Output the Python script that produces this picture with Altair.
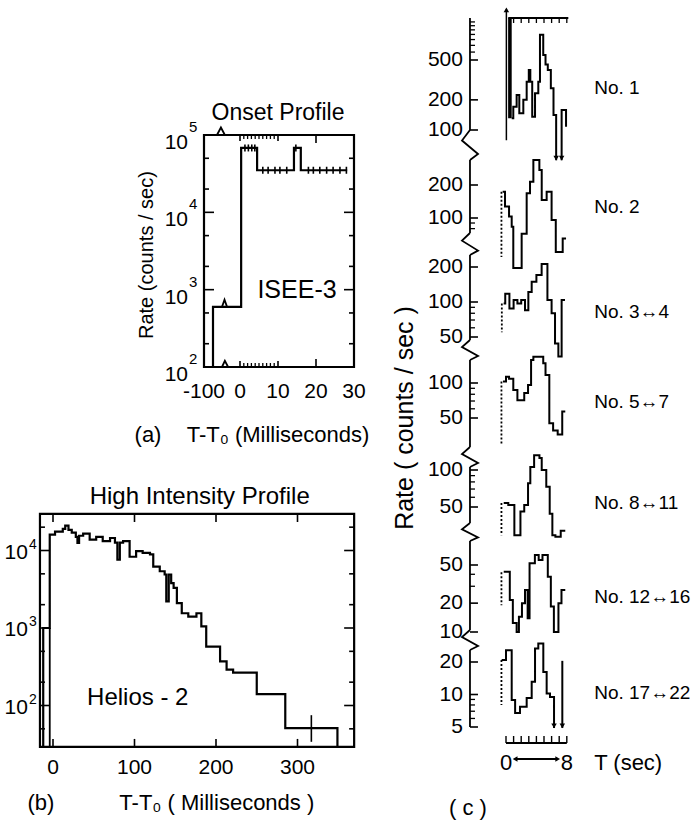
import math
import altair as alt
import pandas as pd

FW = "Liberation Sans, Arial, Helvetica, sans-serif"
FN = "Liberation Sans, Arial, Helvetica, sans-serif"

# ====================== DATA ======================
# (a) ISEE-3 onset profile  (T - T0 in ms, rate in counts/s), step curve
a_t = [-75, -75, 0.3, 4.5, 14.2, 16.0, 28.2]
a_rate = [100, 600, 68000, 35000, 68000, 35000, 35000]
a_err_t = [1.3, 2.2, 3.1, 3.9, 6.0, 7.4, 9.2, 10.5, 12.3, 14.7, 18.0, 19.3, 21.0, 22.8, 24.5, 26.3, 28.0]
a_err_rate = [68000, 68000, 68000, 68000, 35000, 35000, 35000, 35000, 35000, 68000,
              35000, 35000, 35000, 35000, 35000, 35000, 35000]
a_xtick_labels = ["-100", "0", "10", "20", "30"]
a_xtick_vals = [-100, 0, 10, 20, 30]
a_y_major = [100, 1000, 10000, 100000]
a_y_exp = ["2", "3", "4", "5"]
a_y_minor = [200, 500, 2000, 5000, 20000, 50000]
a_x_minor = [1, 2, 3, 4, 5, 6, 7, 8, 9]
a_x_mid = [0, 10]
a_x_major = [20]
# axis-break chevrons (T, rate)
a_brk_top_t, a_brk_top_v = [-64, -53, -42], [100000, 125000, 100000]
a_brk_bot_t, a_brk_bot_v = [-50, -42, -33], [100, 120, 100]
a_brk_cur_t, a_brk_cur_v = [-50, -43, -36], [600, 740, 600]

# (b) Helios-2 high intensity profile, step curve
b_t = [-12, -12, -4, 2.5, 12, 15, 19, 23, 28, 30, 32, 37, 45, 53, 61, 70, 76, 79, 82, 86,
       94, 102, 110, 119, 123, 131, 137, 139, 142, 145, 148, 152, 158, 166, 176, 182, 188,
       205, 213, 221, 250, 285, 349, 349]
b_rate = [29.2, 1000, 16000, 17500, 19000, 21000, 18500, 17000, 15000, 12500, 15500, 16500,
          13800, 15000, 13200, 14500, 12600, 7600, 12600, 13200, 8300, 9800, 9300, 8900, 6200,
          5400, 4900, 2200, 4900, 3800, 3300, 2100, 1550, 1400, 1550, 1050, 575, 370, 290, 265,
          140, 51, 51, 29.2]
b_err_t, b_err_lo, b_err_hi = [317], [34], [75]
b_pre_t, b_pre_lo, b_pre_hi = [-4], [29.2], [1000]
b_xtick_vals = [0, 100, 200, 300]
b_xtick_labels = ["0", "100", "200", "300"]
b_y_major = [100, 1000, 10000]
b_y_exp = ["2", "3", "4"]
b_y_minor = [50, 200, 500, 2000, 5000, 20000]

# (c) seven event groups: T (s) and rate (counts/s)
s1_t = [0.75, 0.96, 1.40, 1.75, 2.28, 2.72, 3.00, 3.20, 3.45, 3.82, 4.25, 4.47, 4.90, 5.20,
        5.50, 5.90, 6.25, 6.60, 6.60, 7.32, 7.32, 7.90, 7.90]
s1_rate = [131, 171, 224, 147, 200, 304, 398, 304, 136, 233, 304, 891, 562, 450, 398, 261,
           141, 141, 50, 50, 158, 158, 108]
s1_seg = [0, 0, 0, 0, 0, 0, 0, 0, 0, 0, 0, 0, 0, 0, 0, 0, 0, 0, 0, 1, 1, 1, 1]
s2_t = [-0.44, -0.13, 0.40, 0.75, 0.96, 2.06, 2.72, 3.16, 3.60, 4.39, 4.70, 5.35, 6.00, 6.55, 7.46, 7.90]
s2_rate = [174, 127, 103, 83, 35, 72, 168, 214, 338, 274, 146, 174, 96, 49, 65, 65]
s3_t = [-0.31, -0.10, 0.45, 1.00, 1.50, 2.00, 2.50, 2.94, 3.38, 4.00, 4.69, 5.45, 6.00, 6.45, 6.89, 7.32, 7.76]
s3_rate = [97, 118, 88, 104, 97, 104, 85, 122, 149, 171, 212, 104, 80, 44, 34, 104, 104]
s4_t = [-0.40, 0.00, 0.40, 0.96, 1.50, 2.40, 2.90, 3.30, 3.60, 4.90, 5.20, 5.70, 6.20, 6.80, 7.40, 7.80]
s4_rate = [103, 113, 109, 87, 71, 82, 96, 158, 168, 148, 117, 45, 39, 36, 57, 57]
s5_t = [-0.30, 0.30, 1.10, 1.90, 2.40, 2.90, 3.20, 3.70, 4.40, 4.70, 5.30, 5.75, 6.10, 6.50, 7.20, 7.80]
s5_rate = [54, 52, 29.5, 46, 52, 78, 106, 132, 125, 100, 73, 44, 29.5, 28.6, 32, 32]
s6_t = [-0.30, 0.50, 0.90, 1.40, 1.70, 2.10, 2.50, 2.85, 3.10, 3.80, 4.30, 4.80, 5.50, 5.90,
        6.30, 6.90, 7.30, 7.80]
s6_rate = [42.5, 21.6, 12.4, 10, 14.4, 19.9, 27.4, 13.9, 52, 63.5, 56.4, 63.5, 37.8, 18.4,
           10, 19.9, 27.4, 27.4]
s7_t = [-0.57, 0.00, 0.75, 1.20, 1.84, 2.72, 3.38, 3.82, 4.25, 4.91, 5.35, 5.79, 6.32, 6.32, 7.41, 7.41]
s7_rate = [20.9, 25.7, 8.9, 6.75, 7.7, 9.3, 13.1, 26.7, 29.7, 16.2, 10.2, 9.5, 9.5, 4.9, 20.5, 4.9]
s7_seg = [0, 0, 0, 0, 0, 0, 0, 0, 0, 0, 0, 0, 0, 0, 1, 1]

# pre-burst dashed segments (t, top, bottom)
dash_t = [None, -0.6, -0.55, -0.6, -0.6, -0.6, -0.6]
dash_top = [None, 174, 97, 103, 54, 42, 20.9]
dash_bot = [None, 44, 55, 30, 29.5, 19, 8.0]
# down arrows (t, rate)
s1_arrow_t, s1_arrow_v = [6.60, 7.32], [50, 50]
s7_arrow_t, s7_arrow_v = [6.32, 7.41], [4.9, 4.9]
s1_up_t, s1_up_v = [0.05], [1660]
s1_line_t, s1_line_lo, s1_line_hi = [0.05], [79], [1600]
s1_bar_t1, s1_bar_t2, s1_bar_lo, s1_bar_hi = [0.28], [0.75], [131], [1318]

group_labels = ["No. 1", "No. 2", "No. 3\u21944", "No. 5\u21947", "No. 8\u219411",
                "No. 12\u219416", "No. 17\u219422"]
group_label_rate = [263, 126, 82, 68.7, 53.9, 23.2, 10.3]
strip_major = [[100, 200, 500], [100, 200], [50, 100, 200], [50, 100], [50, 100],
               [10, 20, 50], [5, 10, 20]]
strip_minor = [[600, 700, 800, 900, 1000, 1100, 1200], [80, 90], [60, 70, 80, 90],
               [60, 70, 80, 90], [60, 70, 80, 90], [30, 40], [6, 7, 8, 9]]
strip_t = [s1_t, s2_t, s3_t, s4_t, s5_t, s6_t, s7_t]
strip_rate = [s1_rate, s2_rate, s3_rate, s4_rate, s5_rate, s6_rate, s7_rate]
strip_seg = [s1_seg, None, None, None, None, None, s7_seg]

# ====================== LAYOUT (pixels) ======================
# strip log-scale anchors: (value, pixel) low & high; spine top/bottom; next strip top
STRIPS = [
    dict(anch=((100, 130), (500, 60)), top=18, bot=130, nxt=160),
    dict(anch=((100, 218), (200, 185)), top=160, bot=233, nxt=255),
    dict(anch=((50, 337), (200, 267)), top=255, bot=340, nxt=360),
    dict(anch=((50, 418), (100, 383)), top=360, bot=447, nxt=467),
    dict(anch=((50, 507), (100, 470)), top=467, bot=523, nxt=541),
    dict(anch=((10, 632), (50, 565)), top=541, bot=630, nxt=650),
    dict(anch=((5, 727), (20, 662)), top=650, bot=727, nxt=None),
]
SPINE_T = -4.74


def val(anch, py):
    (v0, p0), (v1, p1) = anch
    return 10 ** (math.log10(v0) + (p0 - py) / (p0 - p1) * (math.log10(v1) - math.log10(v0)))


# ====================== helpers ======================
def L(v):
    return list(v) if isinstance(v, (list, tuple)) else [v]


def frame(**cols):
    cols = {k: L(v) for k, v in cols.items()}
    n = max(len(v) for v in cols.values())
    return pd.DataFrame({k: (v if len(v) == n else v * n) for k, v in cols.items()})


def X(f, s):
    return alt.X(f, type="quantitative", scale=s, axis=None)


def Y(f, s):
    return alt.Y(f, type="quantitative", scale=s, axis=None)


def step_line(t, v, xs, ys, seg=None, w=2.0):
    d = frame(t=t, v=v, i=list(range(len(t))))
    enc = dict(x=X("t", xs), y=Y("v", ys), order=alt.Order("i:Q"))
    if seg is not None:
        d["seg"] = seg
        enc["detail"] = alt.Detail("seg:N")
    return alt.Chart(d).mark_line(interpolate="step-after", color="black",
                                  strokeWidth=w).encode(**enc)


def poly(t, v, xs, ys, w=1.6):
    d = frame(t=t, v=v, i=list(range(len(t))))
    return alt.Chart(d).mark_line(color="black", strokeWidth=w).encode(
        x=X("t", xs), y=Y("v", ys), order=alt.Order("i:Q"))


def vrule(t, v1, v2, xs, ys, w=1.6, dash=None):
    d = frame(t=t, v1=v1, v2=v2)
    p = dict(color="black", strokeWidth=w)
    if dash:
        p["strokeDash"] = dash
    return alt.Chart(d).mark_rule(**p).encode(x=X("t", xs), y=Y("v1", ys), y2="v2")


def hrule(t1, t2, v, xs, ys, w=1.8):
    d = frame(t1=t1, t2=t2, v=v)
    return alt.Chart(d).mark_rule(color="black", strokeWidth=w).encode(
        x=X("t1", xs), x2="t2", y=Y("v", ys))


def ticks(x, y, xs, ys, orient, size, off, th=1.6):
    d = frame(x=x, y=y)
    p = dict(orient=orient, size=size, thickness=th, color="black", opacity=1)
    if orient == "horizontal":
        p["xOffset"] = off
    else:
        p["yOffset"] = off
    return alt.Chart(d).mark_tick(**p).encode(x=X("x", xs), y=Y("y", ys))


def text(x, y, s, xs, ys, size, font=FN, align="center", baseline="middle", dx=0, dy=0, angle=None):
    d = frame(x=x, y=y, s=s)
    p = dict(fontSize=size, font=font, align=align, baseline=baseline, dx=dx, dy=dy, color="black")
    if angle is not None:
        p["angle"] = angle
    return alt.Chart(d).mark_text(**p).encode(x=X("x", xs), y=Y("y", ys), text="s:N")


def tri(t, v, xs, ys, shape, size=34, yoff=0):
    d = frame(t=t, v=v)
    return alt.Chart(d).mark_point(shape=shape, filled=True, size=size, color="black",
                                   opacity=1, yOffset=yoff).encode(x=X("t", xs), y=Y("v", ys))


def box(x1, x2, y1, y2, xs, ys):
    d = frame(x1=x1, x2=x2, y1=y1, y2=y2)
    return alt.Chart(d).mark_rect(fillOpacity=0, stroke="black", strokeWidth=2.2).encode(
        x=X("x1", xs), x2="x2", y=Y("y1", ys), y2="y2")


# ====================== panel (a) ======================
XA = alt.Scale(type="linear", domain=[-100, 0, 30], range=[204, 240, 354], nice=False, zero=False)
YA = alt.Scale(type="log", domain=[100, 100000], range=[367, 135], nice=False)
panel_a = alt.layer(
    box(-100, 30, 100, 100000, XA, YA),
    ticks(-100, a_y_major, XA, YA, "horizontal", 10, 5),
    ticks(-100, a_y_minor, XA, YA, "horizontal", 5, 2.5),
    ticks(30, a_y_major, XA, YA, "horizontal", 10, -5),
    ticks(30, a_y_minor, XA, YA, "horizontal", 5, -2.5),
    ticks(a_x_minor, 100000, XA, YA, "vertical", 4, 2, th=1.3),
    ticks(a_x_minor, 100, XA, YA, "vertical", 4, -2, th=1.3),
    ticks(a_x_mid, 100000, XA, YA, "vertical", 6, 3),
    ticks(a_x_mid, 100, XA, YA, "vertical", 6, -3),
    ticks(a_x_major, 100000, XA, YA, "vertical", 8, 4),
    ticks(a_x_major, 100, XA, YA, "vertical", 8, -4),
    poly(a_brk_top_t, a_brk_top_v, XA, YA, w=1.8),
    poly(a_brk_bot_t, a_brk_bot_v, XA, YA, w=1.8),
    step_line(a_t, a_rate, XA, YA, w=2.2),
    poly(a_brk_cur_t, a_brk_cur_v, XA, YA, w=1.8),
    ticks(a_err_t, a_err_rate, XA, YA, "vertical", 7, 0, th=1.6),
    text(-100, a_y_major, "10", XA, YA, 21, dx=-16, dy=8, align="right"),
    text(-100, a_y_major, a_y_exp, XA, YA, 15, dx=-15, dy=-8, align="left"),
    text(a_xtick_vals, 100, a_xtick_labels, XA, YA, 21, dy=25),
    text(-100, 100, "(a)", XA, YA, 22, font=FW, dx=-56, dy=68),
    text(10, 100, "T-T\u2080 (Milliseconds)", XA, YA, 22, font=FW, dy=68),
    text(10, 100000, "Onset Profile", XA, YA, 23, font=FW, dy=-22),
    text(15, 1000, "ISEE-3", XA, YA, 25),
    text(-100, 2800, "Rate (counts / sec)", XA, YA, 20, font=FW, dy=-57, angle=270),
)

# ====================== panel (b) ======================
XB = alt.Scale(type="linear", domain=[0, 300], range=[53, 297.5], nice=False, zero=False)
YB = alt.Scale(type="log", domain=[100, 10000], range=[705.5, 550.5], nice=False)
B_X0, B_X1, B_Y0, B_Y1 = -16, 369.5, 29.2, 29600
panel_b = alt.layer(
    box(B_X0, B_X1, B_Y0, B_Y1, XB, YB),
    ticks(B_X0, b_y_major, XB, YB, "horizontal", 10, 5),
    ticks(B_X0, b_y_minor, XB, YB, "horizontal", 5, 2.5),
    ticks(B_X1, b_y_major, XB, YB, "horizontal", 10, -5),
    ticks(B_X1, b_y_minor, XB, YB, "horizontal", 5, -2.5),
    ticks(b_xtick_vals, B_Y0, XB, YB, "vertical", 8, -4),
    ticks(b_xtick_vals, B_Y1, XB, YB, "vertical", 8, 4),
    step_line(b_t, b_rate, XB, YB, w=2.2),
    vrule(b_pre_t, b_pre_lo, b_pre_hi, XB, YB, w=1.8),
    vrule(b_err_t, b_err_lo, b_err_hi, XB, YB, w=1.6),
    text(B_X0, b_y_major, "10", XB, YB, 21, dx=-12, dy=2, align="right"),
    text(B_X0, b_y_major, b_y_exp, XB, YB, 14, dx=-11, dy=-6, align="left"),
    text(b_xtick_vals, B_Y0, b_xtick_labels, XB, YB, 21, dy=21),
    text(B_X0, B_Y0, "(b)", XB, YB, 22, font=FW, dx=1, dy=56),
    text(201, B_Y0, "T-T\u2080 ( Milliseconds )", XB, YB, 22, font=FW, dy=56),
    text(180, B_Y1, "High Intensity Profile", XB, YB, 24, font=FW, dy=-17),
    text(104, 125, "Helios - 2", XB, YB, 24, font=FW),
)

# ====================== panel (c) ======================
XC = alt.Scale(type="linear", domain=[0, 8], range=[506, 566.8], nice=False, zero=False)
strip_layers = []
for k, st in enumerate(STRIPS):
    anch = st["anch"]
    (v0, p0), (v1, p1) = anch
    ys = alt.Scale(type="log", domain=[v0, v1], range=[p0, p1], nice=False)
    parts = [
        vrule(SPINE_T, val(anch, st["top"]), val(anch, st["bot"]), XC, ys, w=1.8),
        ticks(SPINE_T, strip_major[k], XC, ys, "horizontal", 8, 4),
        ticks(SPINE_T, strip_minor[k], XC, ys, "horizontal", 5, 2.5, th=1.3),
        text(SPINE_T, strip_major[k], [str(m) for m in strip_major[k]], XC, ys, 21,
             dx=-7, align="right"),
        step_line(strip_t[k], strip_rate[k], XC, ys, seg=strip_seg[k], w=2.0),
        text(11.6, group_label_rate[k], group_labels[k], XC, ys, 19, align="left"),
    ]
    if st["nxt"] is not None:
        b, n = st["bot"], st["nxt"]
        ln = n - b
        parts.append(poly([SPINE_T, -5.79, -3.68, SPINE_T],
                          [val(anch, b), val(anch, b + 0.35 * ln), val(anch, b + 0.8 * ln), val(anch, n)],
                          XC, ys, w=1.8))
    if dash_t[k] is not None:
        parts.append(vrule(dash_t[k], dash_top[k], dash_bot[k], XC, ys, w=1.8, dash=[2, 2]))
    if k == 0:
        top_v = val(anch, st["top"])
        parts += [
            hrule(0.3, 8.2, top_v, XC, ys, w=1.8),
            ticks([1, 2, 3, 4, 5, 6, 7, 8], top_v, XC, ys, "vertical", 5, 2.5, th=1.3),
            alt.Chart(frame(t1=s1_bar_t1, t2=s1_bar_t2, lo=s1_bar_lo, hi=s1_bar_hi)).mark_rect(
                color="black").encode(x=X("t1", XC), x2="t2", y=Y("lo", ys), y2="hi"),
            vrule(s1_line_t, s1_line_lo, s1_line_hi, XC, ys, w=1.5),
            tri(s1_up_t, s1_up_v, XC, ys, "triangle-up", size=30, yoff=2),
            tri(s1_arrow_t, s1_arrow_v, XC, ys, "triangle-down", size=30, yoff=-2),
        ]
    if k == 3:
        parts.append(text(SPINE_T, 50, "Rate  ( counts / sec )", XC, ys, 25, font=FW,
                          dy=-65, angle=270))
    if k == 6:
        parts.append(tri(s7_arrow_t, s7_arrow_v, XC, ys, "triangle-down", size=30, yoff=-2))
    strip_layers.append(alt.layer(*parts))

YCA = alt.Scale(type="linear", domain=[0, 1], range=[743, 763], nice=False, zero=False)
c_axis = alt.layer(
    hrule(0, 8, 0, XC, YCA, w=1.8),
    ticks([0, 1, 2, 3, 4, 5, 6, 7, 8], 0, XC, YCA, "vertical", 7, -3.5, th=1.4),
    hrule(1.3, 6.7, 0.8, XC, YCA, w=1.8),
    tri(1.2, 0.8, XC, YCA, "triangle-left", size=30),
    tri(6.8, 0.8, XC, YCA, "triangle-right", size=30),
    text([0, 8], 1, ["0", "8"], XC, YCA, 22),
    text(11.6, 1, "T (sec)", XC, YCA, 22, font=FW, align="left"),
    text(-5.0, 1, "( c )", XC, YCA, 22, font=FW, dy=45),
)

chart = alt.layer(panel_a, panel_b, *strip_layers, c_axis).resolve_scale(
    x="independent", y="independent"
).properties(
    width=692, height=825, autosize=alt.AutoSizeParams(type="none"), padding=0,
    background="white",
).configure_view(strokeWidth=0)

chart.save("out.html", embed_options={"renderer": "svg", "actions": False})
